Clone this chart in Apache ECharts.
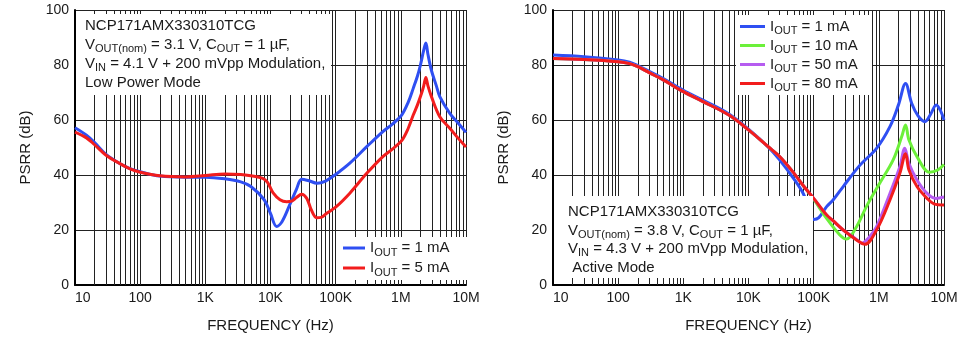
<!DOCTYPE html>
<html><head><meta charset="utf-8">
<script src="https://cdn.jsdelivr.net/npm/echarts@6/dist/echarts.min.js"></script>
<style>html,body{margin:0;padding:0;background:#fff}#c{width:970px;height:344px}</style>
</head><body><div id="c"></div>
<script>
// ---------- data ----------
const decadeLabels = ['10', '100', '1K', '10K', '100K', '1M', '10M'];

// Left chart: Low Power Mode
const leftFreq1 = [10, 15, 20, 30, 50, 70, 100, 200, 500, 1000, 2000, 3500, 5000, 8000, 10000, 12400, 15000, 20000, 25000, 30000, 38000, 52000, 70000, 100000, 165000, 300000, 530000, 750000, 1030000, 1300000, 1550000, 1800000, 2000000, 2250000, 2420000, 2600000, 2950000, 3500000, 3960000, 5640000, 7500000, 10000000];
const leftPsrr1 = [57.2, 54.5, 51.8, 47.5, 44, 42.3, 41.2, 39.6, 39.2, 39.2, 38.6, 37.5, 35.8, 31, 26, 21.3, 23, 29.5, 34.8, 38.5, 38, 37, 37.8, 40.2, 44.3, 50.3, 55.8, 58.6, 61.8, 66.5, 71.5, 76, 80, 85.5, 88, 84, 78, 72.5, 68.5, 62.4, 59, 55.5];
const leftFreq5 = [10, 15, 20, 30, 50, 70, 100, 200, 500, 1000, 2000, 3500, 5000, 7600, 9000, 10900, 14000, 17700, 21000, 25000, 30000, 36000, 42000, 51000, 60000, 72000, 100000, 165000, 300000, 530000, 750000, 1030000, 1300000, 1550000, 1800000, 2080000, 2250000, 2420000, 2600000, 2950000, 3960000, 5640000, 7500000, 10000000];
const leftPsrr5 = [55.6, 53.5, 51, 47.2, 44, 42.2, 41, 39.7, 39.3, 39.8, 40.4, 40.2, 39.7, 38.8, 37.3, 33.6, 31, 30.3, 30.5, 31.8, 33, 31.5, 27.5, 24.5, 24.6, 26, 28.3, 33.4, 40.6, 46.7, 49.5, 52.5, 57, 61.8, 65.5, 69.7, 72.5, 75.5, 72.5, 68.5, 61.2, 57, 53.5, 50.2];

// Right chart: Active Mode
const rightFreq1 = [10, 30, 100, 150, 200, 300, 500, 1000, 2000, 5000, 10000, 20000, 30000, 50000, 70000, 85000, 100000, 120000, 158000, 200000, 284000, 510000, 923000, 1480000, 2000000, 2570000, 3200000, 4000000, 5100000, 6200000, 7600000, 8800000, 10000000];
const rightPsrr1 = [83.6, 83, 81.8, 81, 79.8, 77.7, 75, 70.8, 67.2, 62.2, 56.7, 50.2, 45.5, 38.5, 33, 27.5, 23.8, 24.5, 28.5, 31, 35.8, 43.5, 49.7, 57.6, 65.5, 73.3, 66, 61.5, 59.4, 62, 65.5, 63.5, 60];
const rightFreq10 = [10, 30, 100, 150, 200, 300, 500, 1000, 2000, 5000, 10000, 20000, 30000, 50000, 70000, 100000, 158000, 252000, 320000, 455000, 645000, 1030000, 1660000, 2240000, 2570000, 2900000, 3850000, 6000000, 8000000, 10000000];
const rightPsrr10 = [82.4, 82, 81.2, 80.5, 79.4, 77.2, 74.5, 70.3, 66.7, 61.8, 56.4, 50.3, 46.7, 40.6, 36, 31.2, 24.2, 18.2, 16.7, 21.2, 28.5, 37, 45.5, 53.9, 58.2, 52.7, 46.7, 41, 41.8, 43.8];
const rightFreq50 = [10, 30, 100, 150, 200, 300, 500, 1000, 2000, 5000, 10000, 20000, 30000, 50000, 70000, 100000, 158000, 200000, 284000, 455000, 543000, 700000, 923000, 1480000, 2100000, 2500000, 2900000, 3850000, 5500000, 7500000, 10000000];
const rightPsrr50 = [82.4, 82, 81.2, 80.5, 79.4, 77.2, 74.5, 70.3, 66.7, 61.8, 56.4, 50.3, 46.7, 40.6, 36, 31.5, 25.5, 23.3, 20, 16.6, 15.2, 17.2, 21.2, 33.3, 43, 49.7, 44.2, 38.2, 33.3, 31.5, 32];
const rightFreq80 = [10, 30, 100, 150, 200, 300, 500, 1000, 2000, 5000, 10000, 20000, 30000, 50000, 70000, 100000, 158000, 200000, 284000, 455000, 610000, 923000, 1480000, 2100000, 2570000, 2900000, 3850000, 5500000, 7000000, 10000000];
const rightPsrr80 = [82.4, 82, 81.2, 80.5, 79.4, 77.2, 74.5, 70.3, 66.7, 61.8, 56.4, 50.3, 46.7, 40.6, 36, 31.5, 25.5, 23.3, 20, 16.4, 14.8, 20, 30.9, 40.6, 47.7, 41.8, 35.8, 31.5, 29.5, 29.1];

const legendLabels = { L1: '1 mA', L5: '5 mA', R1: '1 mA', R10: '10 mA', R50: '50 mA', R80: '80 mA' };

// ---------- styling ----------
const FONT = "'Liberation Sans', Arial, Helvetica, sans-serif";
const TXT = '#1a1a1a';
const BLUE = '#2f4ff2', RED = '#f21d1d', GREEN = '#6cf03a', PURPLE = '#b65cf0';

// vertical log grid lines (2..9 x each decade, plus decades)
const gridFreqs = [];
for (let e = 1; e <= 6; e++) {
  for (let m = 1; m <= 9; m++) {
    if (e === 1 && m === 1) continue;
    gridFreqs.push(m * Math.pow(10, e));
  }
}
gridFreqs.push(1e7);

const zip = (f, v) => f.map((x, i) => [x, v[i]]);

function curve(id, idx, f, v, color) {
  return {
    name: id, type: 'line', xAxisIndex: idx, yAxisIndex: idx,
    data: zip(f, v), showSymbol: false, symbol: 'none', smooth: 0.35,
    lineStyle: { width: 3, color: color }, itemStyle: { color: color },
    z: 3, silent: true, animation: false
  };
}
function gridSeries(idx) {
  return {
    type: 'line', xAxisIndex: idx, yAxisIndex: idx, data: [], silent: true, z: 1,
    markLine: {
      silent: true, z: 1, animation: false, symbol: ['none', 'none'],
      label: { show: false },
      lineStyle: { color: '#222', width: 1, type: 'solid' },
      emphasis: { disabled: true },
      data: gridFreqs.map(f => ({ xAxis: f }))
    }
  };
}
function xAx(idx) {
  return {
    type: 'log', logBase: 10, gridIndex: idx, min: 10, max: 1e7, splitNumber: 6,
    name: 'FREQUENCY (Hz)', nameLocation: 'middle', nameGap: 33,
    nameTextStyle: { fontSize: 15, fontFamily: FONT, color: TXT },
    axisLine: { show: true, lineStyle: { color: '#000', width: 2 } },
    axisTick: { show: false }, splitLine: { show: false },
    axisLabel: {
      fontSize: 14, fontFamily: FONT, color: TXT, margin: 6, interval: 0,
      alignMinLabel: 'left',
      formatter: v => decadeLabels[Math.round(Math.log10(v)) - 1]
    }
  };
}
function yAx(idx) {
  return {
    type: 'value', gridIndex: idx, min: 0, max: 100, interval: 20,
    name: 'PSRR (dB)', nameLocation: 'middle', nameGap: 42,
    nameTextStyle: { fontSize: 15, fontFamily: FONT, color: TXT },
    axisLine: { show: true, lineStyle: { color: '#000', width: 2 } },
    axisTick: { show: false },
    splitLine: { show: true, lineStyle: { color: '#222', width: 1 } },
    axisLabel: { fontSize: 14, fontFamily: FONT, color: TXT, margin: 6 }
  };
}
const legendRich = (lh) => ({
  m: { fontSize: 15, fontFamily: FONT, color: TXT, lineHeight: lh },
  s: { fontSize: 11, fontFamily: FONT, color: TXT, lineHeight: 10, verticalAlign: 'bottom' }
});
function legend(names, left, top, w, lh) {
  return {
    data: names, orient: 'vertical', left: left, top: top, padding: 0, itemGap: 0,
    itemWidth: w, itemHeight: 3, icon: 'rect', selectedMode: false, z: 10,
    itemStyle: { borderWidth: 0 },
    formatter: n => '{m|I}{s|OUT}{m| = ' + legendLabels[n] + '}',
    textStyle: { fontSize: 15, fontFamily: FONT, color: TXT, lineHeight: lh, rich: legendRich(lh) }
  };
}
const zrRich = (lh) => ({
  m: { fontSize: 15, fontFamily: FONT, fill: TXT, lineHeight: lh },
  s: { fontSize: 11, fontFamily: FONT, fill: TXT, lineHeight: 10, verticalAlign: 'bottom' }
});
function note(x, y, lines, lh) {
  return {
    type: 'text', x: x, y: y, z: 10, silent: true,
    style: { text: lines.join('\n'), fill: TXT, fontSize: 15, fontFamily: FONT, lineHeight: lh,
      align: 'left', verticalAlign: 'top', rich: zrRich(lh) }
  };
}
const box = (x, y, w, h) => ({ type: 'rect', z: 5, silent: true, shape: { x: x, y: y, width: w, height: h }, style: { fill: '#fff' } });

const option = {
  animation: false,
  backgroundColor: '#fff',
  grid: [
    { left: 75, top: 10, width: 391, height: 275 },
    { left: 553, top: 10, width: 391, height: 275 }
  ],
  xAxis: [xAx(0), xAx(1)],
  yAxis: [yAx(0), yAx(1)],
  legend: [
    legend(['L1', 'L5'], 343, 238, 22, 20),
    legend(['R1', 'R10', 'R50', 'R80'], 740, 17, 25, 19)
  ],
  graphic: { elements: [
    box(76, 14, 255, 81),
    box(338, 237, 129, 43),
    box(736, 15, 136, 80),
    box(554, 196, 259, 82),
    note(85, 16, [
      '{m|NCP171AMX330310TCG}',
      '{m|V}{s|OUT(nom)}{m| = 3.1 V, C}{s|OUT}{m| = 1 µF,}',
      '{m|V}{s|IN}{m| = 4.1 V + 200 mVpp Modulation,}',
      '{m|Low Power Mode}'
    ], 19),
    note(568, 203, [
      '{m|NCP171AMX330310TCG}',
      '{m|V}{s|OUT(nom)}{m| = 3.8 V, C}{s|OUT}{m| = 1 µF,}',
      '{m|V}{s|IN}{m| = 4.3 V + 200 mVpp Modulation,}',
      '{m| Active Mode}'
    ], 18.5)
  ] },
  series: [
    gridSeries(0), gridSeries(1),
    curve('L1', 0, leftFreq1, leftPsrr1, BLUE),
    curve('L5', 0, leftFreq5, leftPsrr5, RED),
    curve('R1', 1, rightFreq1, rightPsrr1, BLUE),
    curve('R10', 1, rightFreq10, rightPsrr10, GREEN),
    curve('R50', 1, rightFreq50, rightPsrr50, PURPLE),
    curve('R80', 1, rightFreq80, rightPsrr80, RED)
  ]
};
const chart = echarts.init(document.getElementById('c'), null, { renderer: 'canvas' });
chart.setOption(option);
</script></body></html>
